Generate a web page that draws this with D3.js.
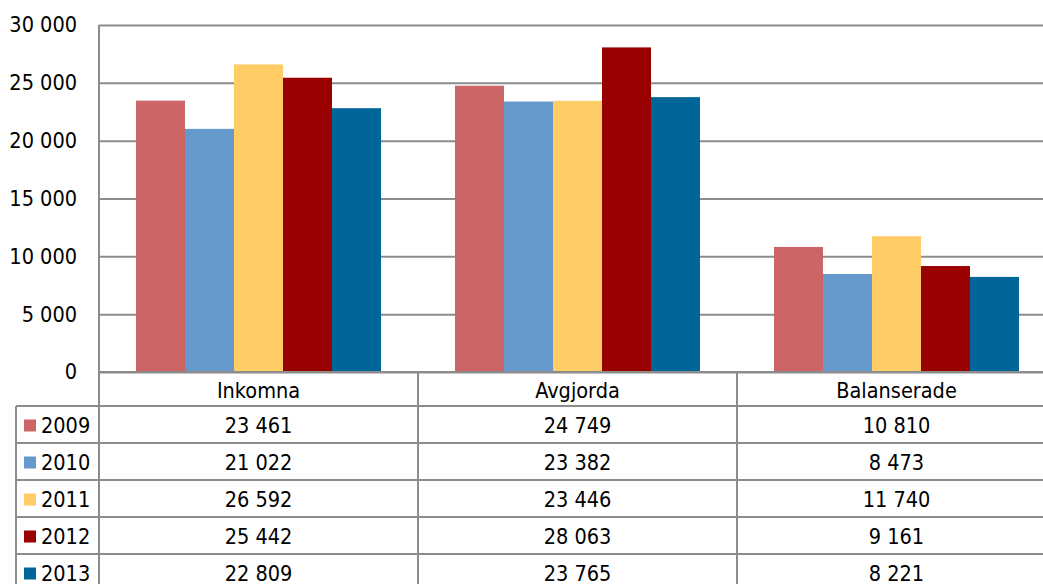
<!DOCTYPE html>
<html><head><meta charset="utf-8">
<script src="https://cdn.jsdelivr.net/npm/d3@7"></script>
<style>body{margin:0;background:#fff}svg{display:block}text{font-family:"DejaVu Sans Condensed","DejaVu Sans",sans-serif;font-stretch:condensed;fill:#000}</style>
</head><body><svg id="c" width="1043" height="584"></svg>
<script>
const categories = ["Inkomna", "Avgjorda", "Balanserade"];
const years = ["2009", "2010", "2011", "2012", "2013"];
const v2009 = [23461, 24749, 10810];
const v2010 = [21022, 23382, 8473];
const v2011 = [26592, 23446, 11740];
const v2012 = [25442, 28063, 9161];
const v2013 = [22809, 23765, 8221];
const yTicks = [0, 5000, 10000, 15000, 20000, 25000, 30000];
const colors = ["#CC6666", "#6699CC", "#FFCC66", "#990000", "#006699"];
const series = [v2009, v2010, v2011, v2012, v2013];

const svg = d3.select("#c");
const plotLeft = 99, plotW = 957, plotTop = 25, zeroY = 372;
const rowH = 37, headerH = 34, tableLeft = 16;
const grid = "#8c8c8c";
const fs = "21.5px";
const fmt = v => d3.format(",")(v).replace(/,/g, " ");

const x0 = d3.scaleBand().domain(categories).range([plotLeft, plotLeft + plotW]).paddingInner(0).paddingOuter(0);
const x1 = d3.scaleBand().domain(years).range([0, x0.bandwidth()]).paddingOuter(0.755).paddingInner(0);
const y = d3.scaleLinear().domain([0, 30000]).range([zeroY, plotTop]);

const yAxis = d3.axisLeft(y).tickValues(yTicks).tickSize(-plotW).tickFormat(fmt).tickPadding(22);
const ga = svg.append("g").attr("transform", `translate(${plotLeft},0)`).call(yAxis);
ga.select(".domain").remove();
ga.selectAll("line").attr("stroke", grid).attr("stroke-width", 2);
ga.selectAll("text").style("font-size", fs).style("font-family", null).attr("font-family", null).attr("fill", "#000");
ga.attr("font-family", null).attr("font-size", null);

const gb = svg.append("g");
categories.forEach((c, ci) => {
  years.forEach((yr, si) => {
    const v = series[si][ci];
    gb.append("rect")
      .attr("x", x0(c) + x1(yr))
      .attr("width", x1.bandwidth())
      .attr("y", y(v))
      .attr("height", zeroY - y(v))
      .attr("fill", colors[si]);
  });
});

const tableBottom = zeroY + headerH + rowH * years.length;
const tl = svg.append("g").attr("stroke", grid).attr("stroke-width", 2);
tl.append("line").attr("x1", plotLeft).attr("x2", plotLeft + plotW).attr("y1", zeroY).attr("y2", zeroY);
for (let i = 0; i <= years.length; i++) {
  const yy = zeroY + headerH + i * rowH;
  tl.append("line").attr("x1", tableLeft).attr("x2", plotLeft + plotW).attr("y1", yy).attr("y2", yy);
}
tl.append("line").attr("x1", plotLeft).attr("x2", plotLeft).attr("y1", plotTop).attr("y2", tableBottom);
tl.append("line").attr("x1", tableLeft).attr("x2", tableLeft).attr("y1", zeroY + headerH).attr("y2", tableBottom);
categories.forEach((c, ci) => {
  if (ci > 0) tl.append("line").attr("x1", x0(c)).attr("x2", x0(c)).attr("y1", zeroY).attr("y2", tableBottom);
});

categories.forEach(c => {
  svg.append("text").attr("x", x0(c) + x0.bandwidth() / 2).attr("y", zeroY + headerH / 2 + 1)
    .attr("text-anchor", "middle").attr("dy", "0.35em").style("font-size", fs).text(c);
});
years.forEach((yr, si) => {
  const cy = zeroY + headerH + si * rowH + rowH / 2 + 1;
  svg.append("rect").attr("x", 24).attr("y", cy - 6).attr("width", 12).attr("height", 12).attr("fill", colors[si]);
  svg.append("text").attr("x", 41).attr("y", cy).attr("dy", "0.35em").style("font-size", fs).text(yr);
  categories.forEach((c, ci) => {
    svg.append("text").attr("x", x0(c) + x0.bandwidth() / 2).attr("y", cy)
      .attr("text-anchor", "middle").attr("dy", "0.35em").style("font-size", fs).text(fmt(series[si][ci]));
  });
});
</script></body></html>
